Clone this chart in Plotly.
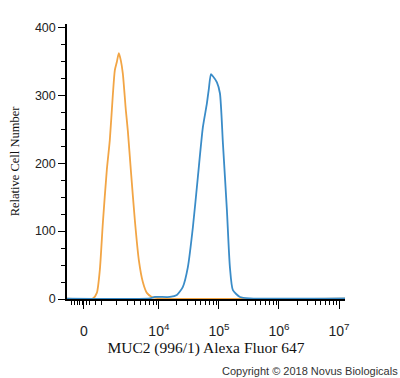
import plotly.graph_objects as go
import math

# x positions in display decades (biexponential display: 0 -> 2.75, 10^4 -> 4, ...)
orange_x = [2.47, 2.90, 2.967, 3.017, 3.067, 3.133, 3.183, 3.233, 3.267, 3.30, 3.333,
            3.367, 3.40, 3.45, 3.483, 3.533, 3.60, 3.667, 3.733, 3.80, 3.883, 4.017, 7.1]
orange_y = [0.5, 0.5, 9, 43, 112, 190, 234, 300, 337, 349, 362,
            351, 332, 278, 248, 190, 116, 57, 25, 9, 3, 1, 0.5]

blue_x = [2.47, 3.85, 3.933, 4.183, 4.30, 4.40, 4.483, 4.567, 4.65, 4.733, 4.80, 4.833,
          4.867, 4.90, 4.967, 5.017, 5.067, 5.133, 5.183, 5.233, 5.35, 5.517, 7.1]
blue_y = [0.5, 1, 3, 3, 6, 18, 47, 106, 180, 253, 288, 310,
          331, 328, 319, 303, 229, 131, 47, 13, 3, 1, 1]

x_tick_vals = [2.75, 4, 5, 6, 7]
x_tick_text = ["0", "10<sup>4</sup>", "10<sup>5</sup>", "10<sup>6</sup>", "10<sup>7</sup>"]
y_tick_vals = [0, 100, 200, 300, 400]

x_minor = [2.55, 2.60, 2.64, 2.68, 2.72, 2.80, 2.85, 2.95, 3.05]
for d in (3, 4, 5, 6):
    for k in range(2, 10):
        x_minor.append(d + math.log10(k))
y_minor = [v for v in range(25, 425, 25) if v % 100 != 0]

fig = go.Figure()
fig.add_trace(go.Scatter(x=orange_x, y=orange_y, mode="lines",
                         line=dict(color="#F2A545", width=1.8, shape="spline", smoothing=0.6),
                         hoverinfo="skip"))
fig.add_trace(go.Scatter(x=blue_x, y=blue_y, mode="lines",
                         line=dict(color="#3A8CC8", width=1.8, shape="spline", smoothing=0.6),
                         hoverinfo="skip"))

fig.update_layout(
    width=400, height=378,
    margin=dict(l=67, r=55, t=24, b=79),
    paper_bgcolor="white", plot_bgcolor="white",
    showlegend=False,
    xaxis=dict(range=[2.47, 7.1], showgrid=False, zeroline=False,
               showline=True, linecolor="black", linewidth=1.5,
               tickmode="array", tickvals=x_tick_vals, ticktext=x_tick_text,
               ticks="outside", ticklen=8, tickwidth=1.2, tickcolor="black",
               ticklabelstandoff=10,
               tickfont=dict(family="Liberation Sans, Arial", size=14, color="#222"),
               minor=dict(tickvals=x_minor, ticks="outside", ticklen=4, tickwidth=1, tickcolor="black"),
               title=dict(text="MUC2 (996/1) Alexa Fluor 647",
                          font=dict(family="Liberation Serif, Times New Roman", size=15.5, color="#111"),
                          standoff=5)),
    yaxis=dict(range=[0, 405], showgrid=False, zeroline=False,
               showline=True, linecolor="black", linewidth=1.5,
               tickmode="array", tickvals=y_tick_vals,
               ticks="outside", ticklen=7, tickwidth=1.2, tickcolor="black",
               tickfont=dict(family="Liberation Sans, Arial", size=12.5, color="#222"),
               minor=dict(tickvals=y_minor, ticks="outside", ticklen=4, tickwidth=1, tickcolor="black"),
               title=dict(text="Relative Cell Number",
                          font=dict(family="Liberation Serif, Times New Roman", size=12.5, color="#111"),
                          standoff=13)),
    annotations=[dict(text="Copyright © 2018 Novus Biologicals", xref="paper", yref="paper",
                      x=1.197, y=-0.263, xanchor="right", yanchor="middle", showarrow=False,
                      font=dict(family="Liberation Sans, Arial", size=11, color="#333"))],
)

fig.write_html("out.html")
